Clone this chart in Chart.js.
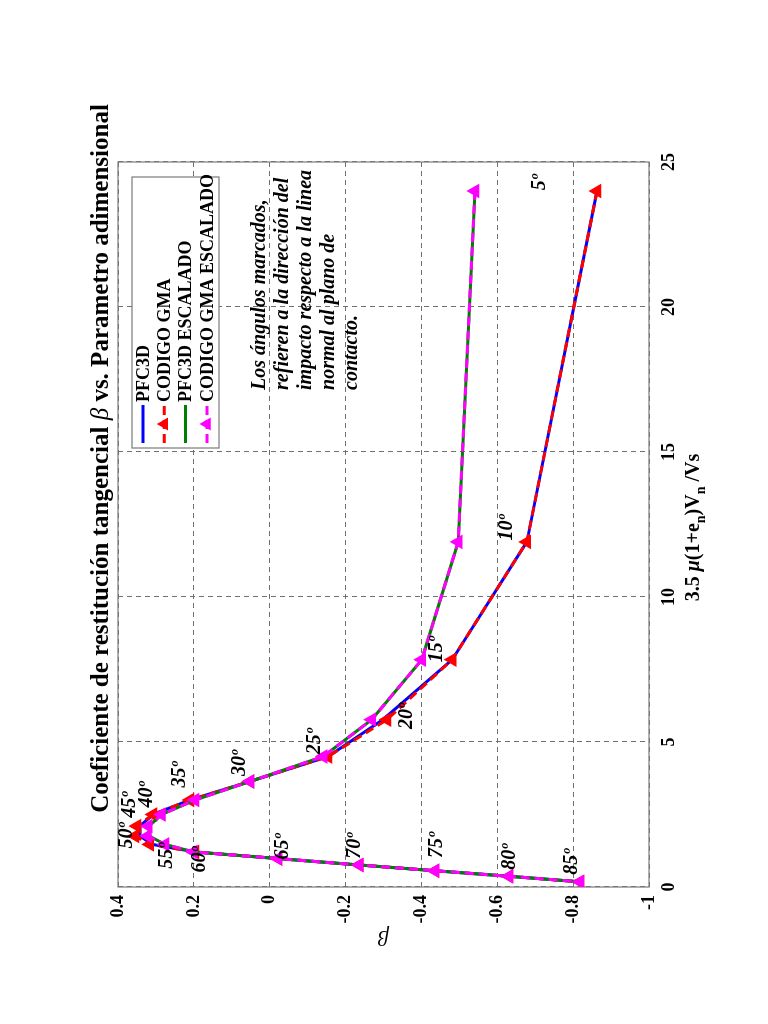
<!DOCTYPE html>
<html><head><meta charset="utf-8">
<script src="https://cdn.jsdelivr.net/npm/chart.js@4.4.1/dist/chart.umd.min.js"></script>
<style>
html,body{margin:0;padding:0;background:#fff;overflow:hidden;width:768px;height:1024px;}
#wrap{position:absolute;left:0;top:0;width:1024px;height:768px;transform-origin:0 0;transform:translate(0,1024px) rotate(-90deg);}
</style></head><body>
<div id="wrap"><canvas id="c" width="1024" height="768"></canvas></div>
<script>
const FONT = '"Liberation Serif", "Times New Roman", serif';

// ---- data ----
const angles = [5,10,15,20,25,30,35,40,45,50,55,60,65,70,75,80,85];
const xParam = [24.0,11.9,7.84,5.77,4.50,3.64,3.00,2.50,2.10,1.76,1.47,1.21,0.98,0.76,0.56,0.37,0.18];
const betaPFC3D = [-0.863,-0.678,-0.481,-0.298,-0.154,0.052,0.21,0.308,0.342,0.342,0.31,0.197,-0.022,-0.236,-0.436,-0.631,-0.818];
const betaGMA = [-0.863,-0.678,-0.481,-0.309,-0.154,0.052,0.21,0.308,0.35,0.355,0.316,0.197,-0.022,-0.236,-0.436,-0.631,-0.818];
const betaPFC3DEsc = [-0.541,-0.497,-0.401,-0.269,-0.141,0.052,0.197,0.285,0.318,0.318,0.276,0.201,-0.022,-0.236,-0.436,-0.631,-0.818];
const betaGMAEsc = [-0.541,-0.497,-0.401,-0.269,-0.141,0.052,0.197,0.285,0.32,0.322,0.276,0.201,-0.022,-0.236,-0.436,-0.631,-0.818];
const xTicks = [0,5,10,15,20,25];
const yTicks = [-1,-0.8,-0.6,-0.4,-0.2,0,0.2,0.4];
const seriesNames = ['PFC3D','CODIGO GMA','PFC3D ESCALADO','CODIGO GMA ESCALADO'];
const titleText = ['Coeficiente de restitución tangencial ','β',' vs. Parametro adimensional'];
const yTitle = 'β';
// angle-label anchors in data units
const angleLabelX = [24.3,12.4,8.2,5.9,5.03,4.28,3.88,3.19,2.84,1.78,1.08,0.95,1.4,1.42,1.45,1.04,0.87];
const angleLabelY = [-0.713,-0.625,-0.44,-0.361,-0.119,0.078,0.237,0.324,0.368,0.378,0.27,0.184,-0.035,-0.225,-0.441,-0.634,-0.797];
const noteLines = ['Los ángulos marcados,','refieren a la dirección del','impacto respecto a la linea','normal al plano de','contacto.'];
const noteAnchor = [17.14, 0.0256];

const pts = arr => xParam.map((x,i)=>({x:x, y:arr[i]}));
const fmt = v => String(Math.round(v*10)/10);

function mk(label, data, color, dashed, marker, order){
  return {label, data: pts(data), borderColor: color, backgroundColor: color, borderWidth: 3,
    borderDash: dashed ? [9,5] : [], pointStyle: 'triangle', pointRadius: marker ? 6 : 0,
    pointHoverRadius: 0, pointBorderWidth: 2.5, pointBackgroundColor: color, pointBorderColor: color,
    fill: false, tension: 0, order};
}
const datasets = [
  mk(seriesNames[0], betaPFC3D, '#0000ff', false, false, 4),
  mk(seriesNames[1], betaGMA, '#ff0000', true, true, 3),
  mk(seriesNames[2], betaPFC3DEsc, '#008000', false, false, 2),
  mk(seriesNames[3], betaGMAEsc, '#ff00ff', true, true, 1)
];

function drawRich(ctx, segs, cx, y){
  let total = 0;
  segs.forEach(s=>{ctx.font = s.font; s.w = ctx.measureText(s.t).width; total += s.w;});
  let x = cx - total/2;
  ctx.textAlign = 'left'; ctx.textBaseline = 'alphabetic';
  segs.forEach(s=>{ctx.font = s.font; ctx.fillText(s.t, x, y + (s.dy||0)); x += s.w;});
}

const decor = {
  id: 'decor',
  beforeDatasetsDraw(chart){
    const {ctx, chartArea: a} = chart;
    ctx.save();
    ctx.strokeStyle = '#7a7a7a'; ctx.lineWidth = 1.2; ctx.setLineDash([]);
    ctx.strokeRect(a.left, a.top, a.right - a.left, a.bottom - a.top);
    ctx.restore();
  },
  afterDraw(chart){
    const {ctx, chartArea: a, scales} = chart;
    const xs = scales.x, ys = scales.y;
    ctx.save();
    ctx.fillStyle = '#000';
    // title
    const cx = (a.left + a.right)/2 + 66;
    drawRich(ctx, [
      {t: titleText[0], font: 'bold 25px ' + FONT},
      {t: titleText[1], font: 'italic 25px ' + FONT},
      {t: titleText[2], font: 'bold 25px ' + FONT}
    ], cx, a.top - 10);
    // x axis title
    drawRich(ctx, [
      {t: '3.5 ', font: 'bold 20px ' + FONT},
      {t: 'μ', font: 'italic bold 20px ' + FONT},
      {t: '(1+e', font: 'bold 20px ' + FONT},
      {t: 'n', font: 'bold 14px ' + FONT, dy: 6},
      {t: ')V', font: 'bold 20px ' + FONT},
      {t: 'n', font: 'bold 14px ' + FONT, dy: 6},
      {t: ' /Vs', font: 'bold 20px ' + FONT}
    ], (a.left + a.right)/2 - 3, a.bottom + 50);
    // angle labels
    ctx.font = 'italic bold 20px ' + FONT;
    ctx.textAlign = 'center'; ctx.textBaseline = 'middle';
    angles.forEach((ang, i)=>{
      ctx.fillText(ang + 'º', xs.getPixelForValue(angleLabelX[i]), ys.getPixelForValue(angleLabelY[i]));
    });
    // note
    ctx.textAlign = 'left';
    const nx = xs.getPixelForValue(noteAnchor[0]);
    const ny = ys.getPixelForValue(noteAnchor[1]);
    noteLines.forEach((t, i)=> ctx.fillText(t, nx, ny + i*23));
    // legend
    const L = a.right - 286, T = a.top + 14, W = 271, H = 87;
    ctx.fillStyle = '#fff'; ctx.fillRect(L, T, W, H);
    ctx.strokeStyle = '#7a7a7a'; ctx.lineWidth = 1.2; ctx.strokeRect(L, T, W, H);
    ctx.font = 'bold 18px ' + FONT; ctx.textBaseline = 'middle';
    chart.data.datasets.forEach((d, i)=>{
      const yy = T + 11 + i*21.3;
      ctx.save();
      ctx.strokeStyle = d.borderColor; ctx.lineWidth = 3; ctx.setLineDash(d.borderDash);
      ctx.beginPath(); ctx.moveTo(L + 5, yy); ctx.lineTo(L + 43, yy); ctx.stroke();
      ctx.restore();
      if (d.pointRadius > 0){
        ctx.save(); ctx.setLineDash([]);
        ctx.strokeStyle = d.borderColor; ctx.fillStyle = d.borderColor; ctx.lineWidth = 2.5;
        Chart.helpers.drawPoint(ctx, {pointStyle: 'triangle', radius: 5, rotation: 0, borderWidth: 2.5}, L + 24, yy);
        ctx.restore();
      }
      ctx.fillStyle = '#000';
      ctx.fillText(d.label, L + 46, yy + 1);
    });
    ctx.restore();
  }
};

new Chart(document.getElementById('c'), {
  type: 'line',
  data: { datasets },
  options: {
    responsive: false, animation: false, devicePixelRatio: 1,
    layout: { padding: { left: 57, right: 162, top: 118, bottom: 59 } },
    plugins: { legend: { display: false }, title: { display: false }, tooltip: { enabled: false } },
    scales: {
      x: { type: 'linear', min: 0, max: 25, position: 'bottom',
        afterBuildTicks: s => { s.ticks = xTicks.map(v=>({value: v})); },
        afterFit: s => { s.height = 60; },
        grid: { color: '#707070', lineWidth: 1, drawTicks: false },
        border: { display: false, dash: [5,4] },
        ticks: { color: '#000', font: { family: FONT, size: 18, weight: 'bold' }, padding: 10, maxRotation: 0, callback: v => fmt(v) }
      },
      y: { type: 'linear', min: -1, max: 0.4, position: 'left',
        afterBuildTicks: s => { s.ticks = yTicks.map(v=>({value: v})); },
        afterFit: s => { s.width = 80; },
        grid: { color: '#707070', lineWidth: 1, drawTicks: false },
        border: { display: false, dash: [5,4] },
        ticks: { color: '#000', font: { family: FONT, size: 18, weight: 'bold' }, padding: 8, callback: v => fmt(v) },
        title: { display: true, text: yTitle, color: '#000', font: { family: FONT, size: 22, style: 'italic', weight: 'normal', lineHeight: 1.2 }, padding: { top: 17, bottom: 0 } }
      }
    }
  },
  plugins: [decor]
});
</script>
</body></html>
